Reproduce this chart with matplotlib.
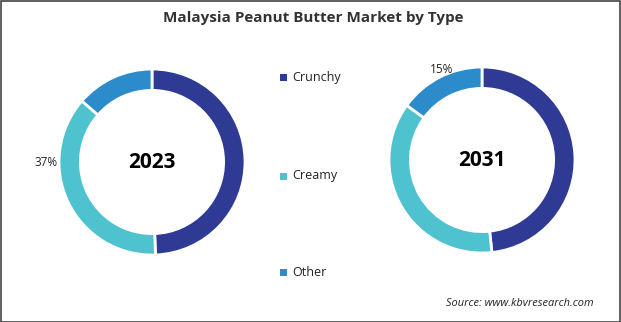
import matplotlib.pyplot as plt
from matplotlib.patches import Rectangle

categories = ['Crunchy', 'Creamy', 'Other']
share_2023 = [49.4, 37.0, 13.6]
share_2031 = [48.3, 36.7, 15.0]
colors = ['#2E3A94', '#4EC3CF', '#2B8BCB']

W, H = 621, 322
fig = plt.figure(figsize=(W / 100, H / 100), dpi=100)
fig.patch.set_facecolor('white')


def donut(cx, cy, r, values, year, label_idx, label_xy):
    ax = fig.add_axes([(cx - r) / W, 1 - (cy + r) / H, 2 * r / W, 2 * r / H])
    ax.pie(values, colors=colors, startangle=90, counterclock=False, radius=1,
           wedgeprops=dict(width=0.23, edgecolor='white', linewidth=2))
    ax.set_xlim(-1, 1)
    ax.set_ylim(-1, 1)
    ax.set_aspect('equal')
    ax.axis('off')
    ax.text(0, 0, year, ha='center', va='center', fontsize=15,
            fontweight='bold', family='Open Sans', color='black')
    ax.text(label_xy[0], label_xy[1], f'{values[label_idx]:.0f}%', ha='center',
            va='center', fontsize=8.5, family='Open Sans', color='#222222',
            clip_on=False)
    return ax


donut(152, 162, 93, share_2023, '2023', 1, (-1.14, 0.0))
donut(482, 160, 93, share_2031, '2031', 2, (-0.44, 0.97))

fig.text(313 / W, 1 - 18 / H, 'Malaysia Peanut Butter Market by Type',
         ha='center', va='center', fontsize=11, fontweight='bold',
         family='Open Sans', color='#333333')

# legend
legend_y = [78, 176, 272]
for name, col, y in zip(categories, colors, legend_y):
    fig.patches.append(Rectangle((280 / W, 1 - (y + 3.5) / H), 7 / W, 7 / H,
                                 transform=fig.transFigure, facecolor=col,
                                 edgecolor='none'))
    fig.text(292 / W, 1 - y / H, name, ha='left', va='center', fontsize=9,
             family='Open Sans', color='#222222')

fig.text(594 / W, 1 - 304 / H, 'Source: www.kbvresearch.com', ha='right',
         va='center', fontsize=7.9, style='italic', family='Open Sans',
         color='#222222')

# frame around the image
fig.add_artist(Rectangle((0.5 / W, 0.5 / H), 1 - 1.5 / W, 1 - 1.5 / H,
                         transform=fig.transFigure, fill=False,
                         edgecolor='#444444', linewidth=1.2))

fig.savefig('out.png', dpi=100)
